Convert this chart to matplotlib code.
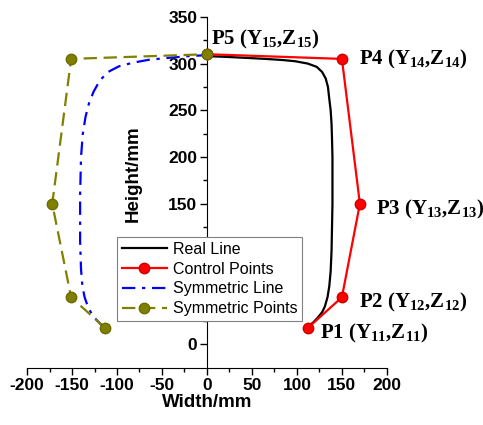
import matplotlib
matplotlib.use("Agg")
import matplotlib.pyplot as plt

plt.rcParams['font.family'] = 'Liberation Sans'
plt.rcParams['axes.unicode_minus'] = False
plt.rcParams['mathtext.fontset'] = 'custom'
plt.rcParams['mathtext.rm'] = 'Liberation Serif:bold'
plt.rcParams['mathtext.bf'] = 'Liberation Serif:bold'
plt.rcParams['mathtext.default'] = 'bf'

# control points P1..P5
ctrl_y = [112, 150, 170, 150, 0]
ctrl_z = [17, 50, 150, 305, 310]
sym_y = [-113, -151, -172, -151, 0]
sym_z = [17, 50, 150, 305, 310]

# real contour
real_y = [113, 118, 123, 128, 131, 134, 136, 137.5, 138.5, 139.5, 139.5, 139, 138.5,
          137.5, 136, 134.5, 132, 128, 122, 112, 98, 84, 65, 45, 25, 0]
real_z = [19, 23, 28, 34, 40, 50, 62, 78, 100, 150, 200, 220, 235,
          250, 262, 275, 284, 291, 296.5, 300, 302.5, 303.8, 305, 306, 307, 308]

sym_line_y = [-113, -118, -123, -128, -132, -136, -138.5, -140, -141, -141, -140,
              -138, -135, -131, -126, -119, -110, -98, -82, -65, -44, -20, 0]
sym_line_z = [18, 21, 26, 32, 39, 50, 62, 80, 110, 160, 200,
              225, 243, 258, 270, 282, 291, 297, 301, 304, 306, 308, 309]

labels = [r'P1 (Y$_{11}$,Z$_{11}$)', r'P2 (Y$_{12}$,Z$_{12}$)', r'P3 (Y$_{13}$,Z$_{13}$)',
          r'P4 (Y$_{14}$,Z$_{14}$)', r'P5 (Y$_{15}$,Z$_{15}$)']
label_xy = [(126, 11), (169, 44), (188, 144), (169, 304), (5, 326)]

fig = plt.figure(figsize=(4.83, 4.25), dpi=100)
ax = fig.add_axes([0.056, 0.1334, 0.745, 0.827])

ax.plot(real_y, real_z, '-', color='black', lw=1.6, label='Real Line', zorder=3)
ax.plot(ctrl_y, ctrl_z, '-o', color='#ff0000', lw=1.6, ms=7.5,
        mec='#cc0000', label='Control Points', zorder=4)
ax.plot(sym_line_y, sym_line_z, '-.', color='#0000ff', lw=1.6,
        dashes=(6, 3, 1.5, 3), label='Symmetric Line', zorder=3)
ax.plot(sym_y, sym_z, '--o', color='#808000', lw=1.6, ms=7.5,
        dashes=(6, 3), mec='#6b6b00', label='Symmetric Points', zorder=4)

for t, (x, y) in zip(labels, label_xy):
    ax.text(x, y, t, fontsize=15, family='Liberation Serif', fontweight='bold',
            ha='left', va='center')

ax.set_xlim(-200, 200)
ax.set_ylim(-26, 350)
ax.spines['left'].set_position(('data', 0))
ax.spines['right'].set_visible(False)
ax.spines['top'].set_visible(False)
ax.set_xticks(range(-200, 201, 50))
ax.set_xticks(range(-175, 200, 50), minor=True)
ax.set_yticks(range(0, 351, 50))
ax.set_yticks(range(25, 350, 50), minor=True)
ax.tick_params(which='major', length=5, width=1, labelsize=12.5, pad=2)
ax.tick_params(which='minor', length=3, width=1)
for lb in ax.get_xticklabels() + ax.get_yticklabels():
    lb.set_fontweight('bold')

ax.set_xlabel('Width/mm', fontsize=13.5, fontweight='bold', labelpad=1)
ax.set_ylabel('Height/mm', fontsize=13.5, fontweight='bold')
ax.yaxis.set_label_coords(0.319, 0.555)

leg = ax.legend(loc='lower left', bbox_to_anchor=(0.25, 0.1345), borderaxespad=0,
                fontsize=11.5, fancybox=False, edgecolor='gray', framealpha=1,
                handlelength=2.8, labelspacing=0.3, borderpad=0.3, handletextpad=0.4)
leg.get_frame().set_linewidth(0.8)

fig.savefig("out.png", dpi=100)
